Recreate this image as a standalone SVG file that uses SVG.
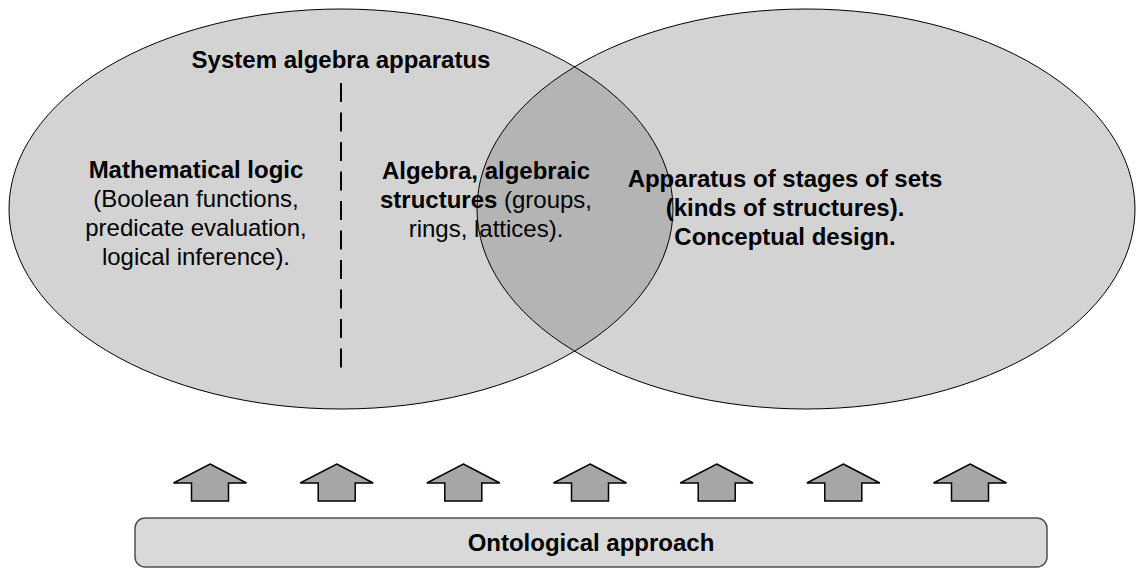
<svg xmlns="http://www.w3.org/2000/svg" width="1136" height="568" viewBox="0 0 1136 568">
  <style>
    .set { fill: #d3d3d3; }
    .outline { fill: none; stroke: #000; stroke-width: 1; }
    .overlap { fill: #b4b4b4; }
    .t { font-family: "Liberation Sans", Arial, sans-serif; font-size: 24px; fill: #000; text-anchor: middle; }
    .b { font-weight: bold; }
    .arrow { fill: #a6a6a6; stroke: #000; stroke-width: 1.5; stroke-linejoin: miter; }
    .base { fill: #d9d9d9; stroke: #505050; stroke-width: 1.5; }
    .divider { stroke: #000; stroke-width: 2; stroke-dasharray: 19 10.5; }
  </style>
  <defs>
    <clipPath id="leftClip">
      <ellipse cx="341" cy="209" rx="332" ry="200"/>
    </clipPath>
    <polygon id="upArrow" class="arrow" points="0,464 36.5,483 18.5,483 18.5,501 -18.5,501 -18.5,483 -36.5,483"/>
  </defs>

  <!-- two overlapping sets -->
  <g id="sets">
    <ellipse class="set" cx="341" cy="209" rx="332" ry="200"/>
    <ellipse class="set" cx="806" cy="209" rx="329" ry="200"/>
    <ellipse class="overlap" cx="806" cy="209" rx="329" ry="200" clip-path="url(#leftClip)"/>
    <ellipse class="outline" cx="341" cy="209" rx="332" ry="200"/>
    <ellipse class="outline" cx="806" cy="209" rx="329" ry="200"/>
  </g>

  <g id="system-algebra">
    <text class="t b" x="341" y="68">System algebra apparatus</text>
    <line class="divider" x1="341" y1="83" x2="341" y2="370"/>
  </g>

  <g id="math-logic">
    <text class="t" x="196" y="178"><tspan class="b">Mathematical logic</tspan></text>
    <text class="t" x="196" y="207">(Boolean functions,</text>
    <text class="t" x="196" y="236">predicate evaluation,</text>
    <text class="t" x="196" y="265">logical inference).</text>
  </g>

  <g id="algebra">
    <text class="t" x="486" y="179"><tspan class="b">Algebra, algebraic</tspan></text>
    <text class="t" x="486" y="208"><tspan class="b">structures</tspan> (groups,</text>
    <text class="t" x="486" y="237">rings, lattices).</text>
  </g>

  <g id="stages-of-sets">
    <text class="t b" x="785" y="187">Apparatus of stages of sets</text>
    <text class="t b" x="785" y="216">(kinds of structures).</text>
    <text class="t b" x="785" y="245">Conceptual design.</text>
  </g>

  <!-- upward arrows from the base -->
  <g id="arrows">
    <use href="#upArrow" x="210"/>
    <use href="#upArrow" x="336.7"/>
    <use href="#upArrow" x="463.3"/>
    <use href="#upArrow" x="590"/>
    <use href="#upArrow" x="716.7"/>
    <use href="#upArrow" x="843.3"/>
    <use href="#upArrow" x="970"/>
  </g>

  <g id="ontological-approach">
    <rect class="base" x="135" y="518" width="912" height="49" rx="10" ry="10"/>
    <text class="t b" x="591" y="551">Ontological approach</text>
  </g>
</svg>
